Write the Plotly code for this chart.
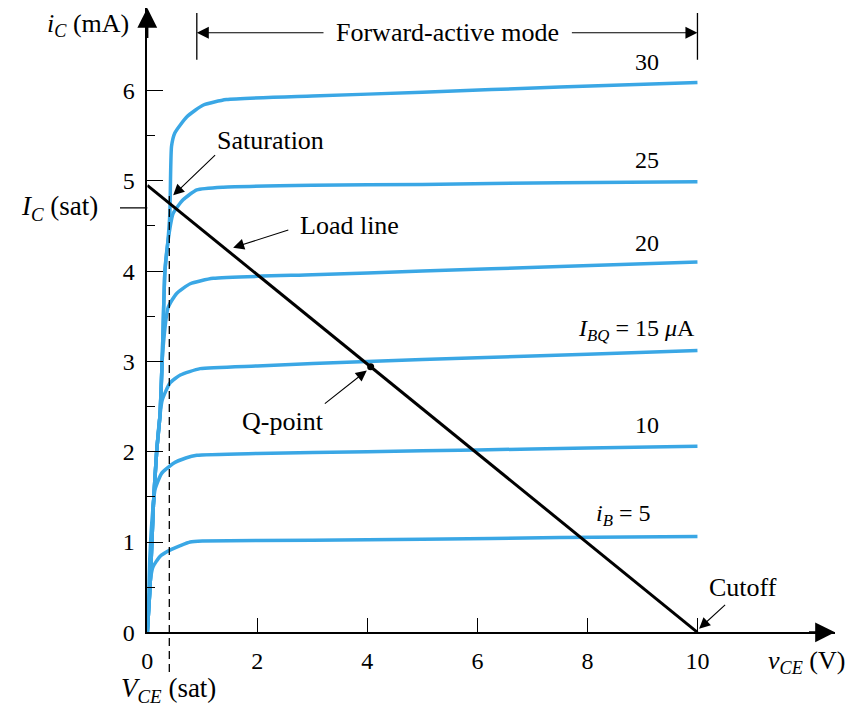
import plotly.graph_objects as go

# ---------------- data ----------------
ib_labels = ["30", "25", "20", "I_BQ = 15 μA", "10", "i_B = 5"]

c30_x = [0, 0.05, 0.11, 0.17, 0.23, 0.27, 0.32, 0.37, 0.41, 0.44, 0.5, 0.72, 1.02, 1.44, 3, 5, 7.5, 10]
c30_y = [0, 0.5, 1.4, 2.0, 2.4, 3.0, 4.0, 4.3, 4.64, 5.38, 5.53, 5.71, 5.84, 5.9, 5.94, 5.98, 6.04, 6.09]

c25_x = [0, 0.05, 0.11, 0.17, 0.23, 0.27, 0.32, 0.38, 0.47, 0.65, 0.9, 1.38, 3, 5, 7.5, 10]
c25_y = [0, 0.5, 1.4, 2.0, 2.4, 3.0, 4.0, 4.35, 4.64, 4.79, 4.9, 4.93, 4.95, 4.96, 4.98, 4.99]

c20_x = [0, 0.05, 0.11, 0.17, 0.23, 0.28, 0.38, 0.53, 0.78, 1.2, 3, 5, 7.5, 10]
c20_y = [0, 0.5, 1.4, 2.0, 2.4, 3.1, 3.6, 3.75, 3.86, 3.92, 3.96, 4.0, 4.05, 4.10]

c15_x = [0, 0.05, 0.11, 0.17, 0.23, 0.27, 0.41, 0.6, 0.96, 2, 4, 6, 8, 10]
c15_y = [0, 0.5, 1.4, 2.0, 2.4, 2.57, 2.76, 2.85, 2.92, 2.95, 3.0, 3.04, 3.08, 3.12]

c10_x = [0, 0.03, 0.08, 0.14, 0.26, 0.47, 0.7, 0.9, 2, 4, 6, 8, 10]
c10_y = [0, 0.6, 1.2, 1.58, 1.76, 1.87, 1.93, 1.96, 1.98, 2.0, 2.02, 2.04, 2.06]

c5_x = [0, 0.02, 0.05, 0.1, 0.23, 0.41, 0.6, 0.78, 1.0, 3, 5, 7.5, 10]
c5_y = [0, 0.3, 0.55, 0.72, 0.84, 0.91, 0.96, 1.0, 1.01, 1.02, 1.03, 1.05, 1.06]

load_x = [0, 10]
load_y = [4.95, 0]

q_x = [4.06]
q_y = [2.94]

vce_sat = 0.4
ic_sat = 4.7

x_ticks = [0, 2, 4, 6, 8, 10]
y_ticks = [0, 1, 2, 3, 4, 5, 6]
y_minor = [0.5, 1.5, 2.5, 3.5, 4.5, 5.5]

# ---------------- styling ----------------
BLUE = "#3AA7E5"
FONT = "Liberation Serif"
W, H = 858, 707
X0PX, Y0PX = 147.3, 632.3
XMAX, YMAX = 12.5, 6.914
XRIGHT_PX, YTOP_PX = 835, 8

fig = go.Figure()

curves = [(c30_x, c30_y), (c25_x, c25_y), (c20_x, c20_y),
          (c15_x, c15_y), (c10_x, c10_y), (c5_x, c5_y)]
for cx, cy in curves:
    fig.add_trace(go.Scatter(x=cx, y=cy, mode="lines",
                             line=dict(color=BLUE, width=3.5, shape="spline", smoothing=0.5),
                             hoverinfo="skip", showlegend=False))

fig.add_trace(go.Scatter(x=load_x, y=load_y, mode="lines",
                         line=dict(color="black", width=3), showlegend=False))
fig.add_trace(go.Scatter(x=q_x, y=q_y, mode="markers",
                         marker=dict(color="black", size=7), showlegend=False))

# dashed V_CE(sat) line (extends below the axis)
fig.add_shape(type="line", xref="x", yref="paper", x0=vce_sat, x1=vce_sat,
              y0=(H - 672) / H, y1=(H - 193) / H,
              line=dict(color="black", width=1.3, dash="8px,5px"))
# I_C(sat) tick left of axis
fig.add_shape(type="line", xref="paper", yref="y", x0=120 / W, x1=X0PX / W,
              y0=ic_sat, y1=ic_sat, line=dict(color="black", width=1.3))

# Forward-active mode bracket
for bx in [0.9, 10]:
    fig.add_shape(type="line", xref="x", yref="y", x0=bx, x1=bx, y0=6.34, y1=6.86,
                  line=dict(color="black", width=1.3))

ann = []
def arrow(hx, hy, tx, ty, size=2.0, width=1.1, head=2):
    ann.append(dict(x=hx, y=hy, ax=tx, ay=ty, xref="x", yref="y", axref="x", ayref="y",
                    text="", showarrow=True, arrowhead=head, arrowsize=size,
                    arrowwidth=width, arrowcolor="black"))

def label(x, y, text, size=26, xref="x", yref="y"):
    ann.append(dict(x=x, y=y, xref=xref, yref=yref, text=text, showarrow=False,
                    font=dict(family=FONT, size=size, color="black"),
                    xanchor="center", yanchor="middle"))

arrow(0.9, 6.64, 3.23, 6.64, size=2.0, width=1.2)
arrow(10, 6.64, 7.69, 6.64, size=2.0, width=1.2)
label(5.45, 6.64, "Forward-active mode", 26)

# axis arrowheads
arrow(0, YMAX, 0, YMAX - 0.35, size=1.8, width=2.2)
arrow(XMAX, 0, XMAX - 0.5, 0, size=1.8, width=2.2)

# curve labels
label(9.09, 6.32, "30", 24)
label(9.09, 5.23, "25", 24)
label(9.09, 4.31, "20", 24)
label(8.9, 3.35, "<i>I<sub>BQ</sub></i> = 15 <i>μ</i>A", 24)
label(9.09, 2.30, "10", 24)
label(8.65, 1.30, "<i>i<sub>B</sub></i> = 5", 24)

# annotations with pointers
label(2.24, 5.45, "Saturation")
arrow(0.47, 4.84, 1.26, 5.3)
label(3.67, 4.50, "Load line")
arrow(1.56, 4.26, 2.59, 4.46)
label(2.46, 2.34, "Q-point")
arrow(3.99, 2.90, 3.2, 2.52)
label(10.83, 0.50, "Cutoff")
arrow(10.03, 0.04, 10.53, 0.32)

# axis titles (paper coords)
label(88 / W, (H - 25) / H, "<i>i<sub>C</sub></i> (mA)", 26, "paper", "paper")
label(59 / W, (H - 208) / H, "<i>I<sub>C</sub></i> (sat)", 27, "paper", "paper")
label(168 / W, (H - 690) / H, "<i>V<sub>CE</sub></i> (sat)", 27, "paper", "paper")
label(806 / W, (H - 662) / H, "<i>v<sub>CE</sub></i> (V)", 26, "paper", "paper")

fig.update_layout(
    width=W, height=H, margin=dict(l=0, r=0, t=0, b=0, autoexpand=False),
    paper_bgcolor="white", plot_bgcolor="white",
    annotations=ann, showlegend=False,
    font=dict(family=FONT, size=24, color="black"),
    xaxis=dict(domain=[X0PX / W, XRIGHT_PX / W], range=[0, XMAX], automargin=False,
               showgrid=False, zeroline=False, showline=True, linecolor="black", linewidth=1.5,
               tickvals=x_ticks, ticktext=[str(v) for v in x_ticks],
               ticks="inside", ticklen=15, tickwidth=1.3, tickcolor="black",
               ticklabelstandoff=6, tickfont=dict(family=FONT, size=24)),
    yaxis=dict(domain=[(H - Y0PX) / H, (H - YTOP_PX) / H], range=[0, YMAX], automargin=False,
               showgrid=False, zeroline=False, showline=True, linecolor="black", linewidth=1.5,
               tickvals=y_ticks, ticktext=[str(v) for v in y_ticks],
               ticks="inside", ticklen=16, tickwidth=1.3, tickcolor="black",
               ticklabelstandoff=6, tickfont=dict(family=FONT, size=24),
               minor=dict(tickvals=y_minor, ticks="inside", ticklen=8, tickwidth=1.3,
                          tickcolor="black", showgrid=False)),
)

fig.write_html("out.html")
